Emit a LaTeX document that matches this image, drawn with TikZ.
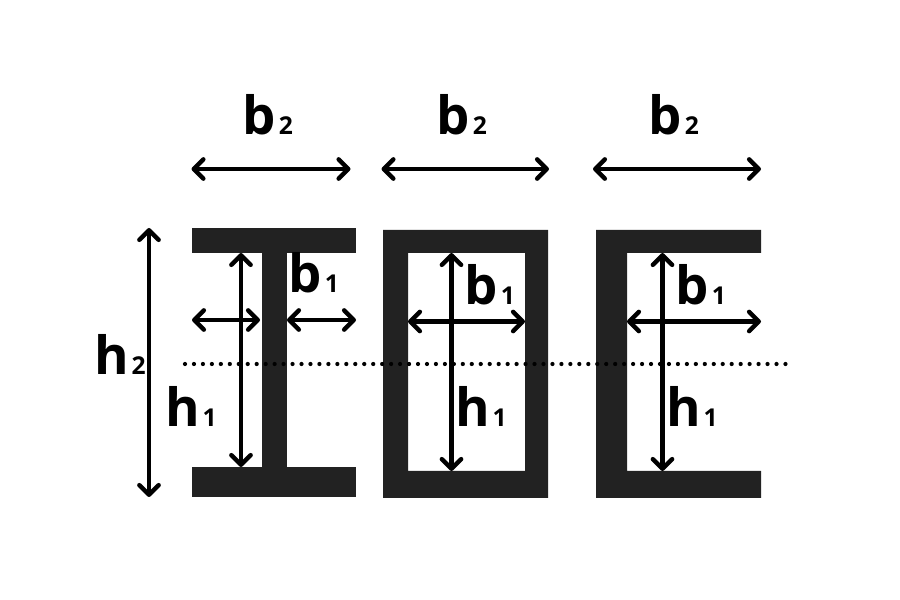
\documentclass[tikz,border=0pt]{standalone}
\usepackage{fontspec}
\setmainfont{Open Sans}
\usetikzlibrary{arrows.meta}
\definecolor{steel}{HTML}{222222}
\def\dimlabel(#1)(#2)(#3){\node[anchor=base, inner sep=0] at (#1) {\bfseries\fontsize{30}{30}\selectfont #2\kern1.5pt\fontsize{14}{14}\selectfont #3};}

\begin{document}
\begin{tikzpicture}[
	dim/.style={line width=2.5pt, {Straight Barb[length=5.5pt,width=11pt,round]}-{Straight Barb[length=5.5pt,width=11pt,round]}},
	axis/.style={line width=2.4pt, line cap=round, dash pattern=on 0pt off 5.1pt}
	]
		%%%%% START %%%%%
		\useasboundingbox (0, 0) rectangle (18, 12);
		
		% I section
		\fill[steel] (3.84, 7.44) rectangle (7.12, 6.94);
		\fill[steel] (3.84, 2.66) rectangle (7.12, 2.06);
		\fill[steel] (5.24, 6.94) rectangle (5.74, 2.66);
		
		% box section
		\fill[steel, even odd rule] (7.66, 7.4) rectangle (10.96, 2.04) (8.16, 6.94) rectangle (10.5, 2.58);
		
		% channel section
		\fill[steel] (11.92, 7.4) -- (15.22, 7.4) -- (15.22, 6.94) -- (12.54, 6.94) -- (12.54, 2.58) -- (15.22, 2.58) -- (15.22, 2.04) -- (11.92, 2.04) -- cycle;
		
		% neutral axis
		\draw[axis] (3.7, 4.72) -- (15.76, 4.72);
		
		% widths b2
		\draw[dim] (3.83, 8.62) -- (7.01, 8.62);
		\draw[dim] (7.63, 8.62) -- (10.98, 8.62);
		\draw[dim] (11.86, 8.62) -- (15.22, 8.62);
		\dimlabel(5.36, 9.3)(b)(2)
		\dimlabel(9.24, 9.3)(b)(2)
		\dimlabel(13.48, 9.3)(b)(2)
		
		% height h2
		\draw[dim] (2.98, 7.44) -- (2.98, 2.06);
		\dimlabel(2.4, 4.5)(h)(2)
		
		% I section b1, h1
		\draw[dim] (3.84, 5.6) -- (5.2, 5.6);
		\draw[dim] (5.74, 5.6) -- (7.12, 5.6);
		\draw[dim] (4.82, 6.94) -- (4.82, 2.66);
		\dimlabel(6.28, 6.14)(b)(1)
		\dimlabel(3.82, 3.46)(h)(1)
		
		% box section b1, h1
		\draw[dim] (8.16, 5.57) -- (10.5, 5.57);
		\draw[dim] (9.03, 6.94) -- (9.03, 2.58);
		\dimlabel(9.8, 5.9)(b)(1)
		\dimlabel(9.62, 3.46)(h)(1)
		
		% channel section b1, h1
		\draw[dim] (12.54, 5.57) -- (15.22, 5.57);
		\draw[dim] (13.25, 6.94) -- (13.25, 2.58);
		\dimlabel(14.02, 5.9)(b)(1)
		\dimlabel(13.84, 3.46)(h)(1)
		
		%%%%% END %%%%%
	\end{tikzpicture}
\end{document}
